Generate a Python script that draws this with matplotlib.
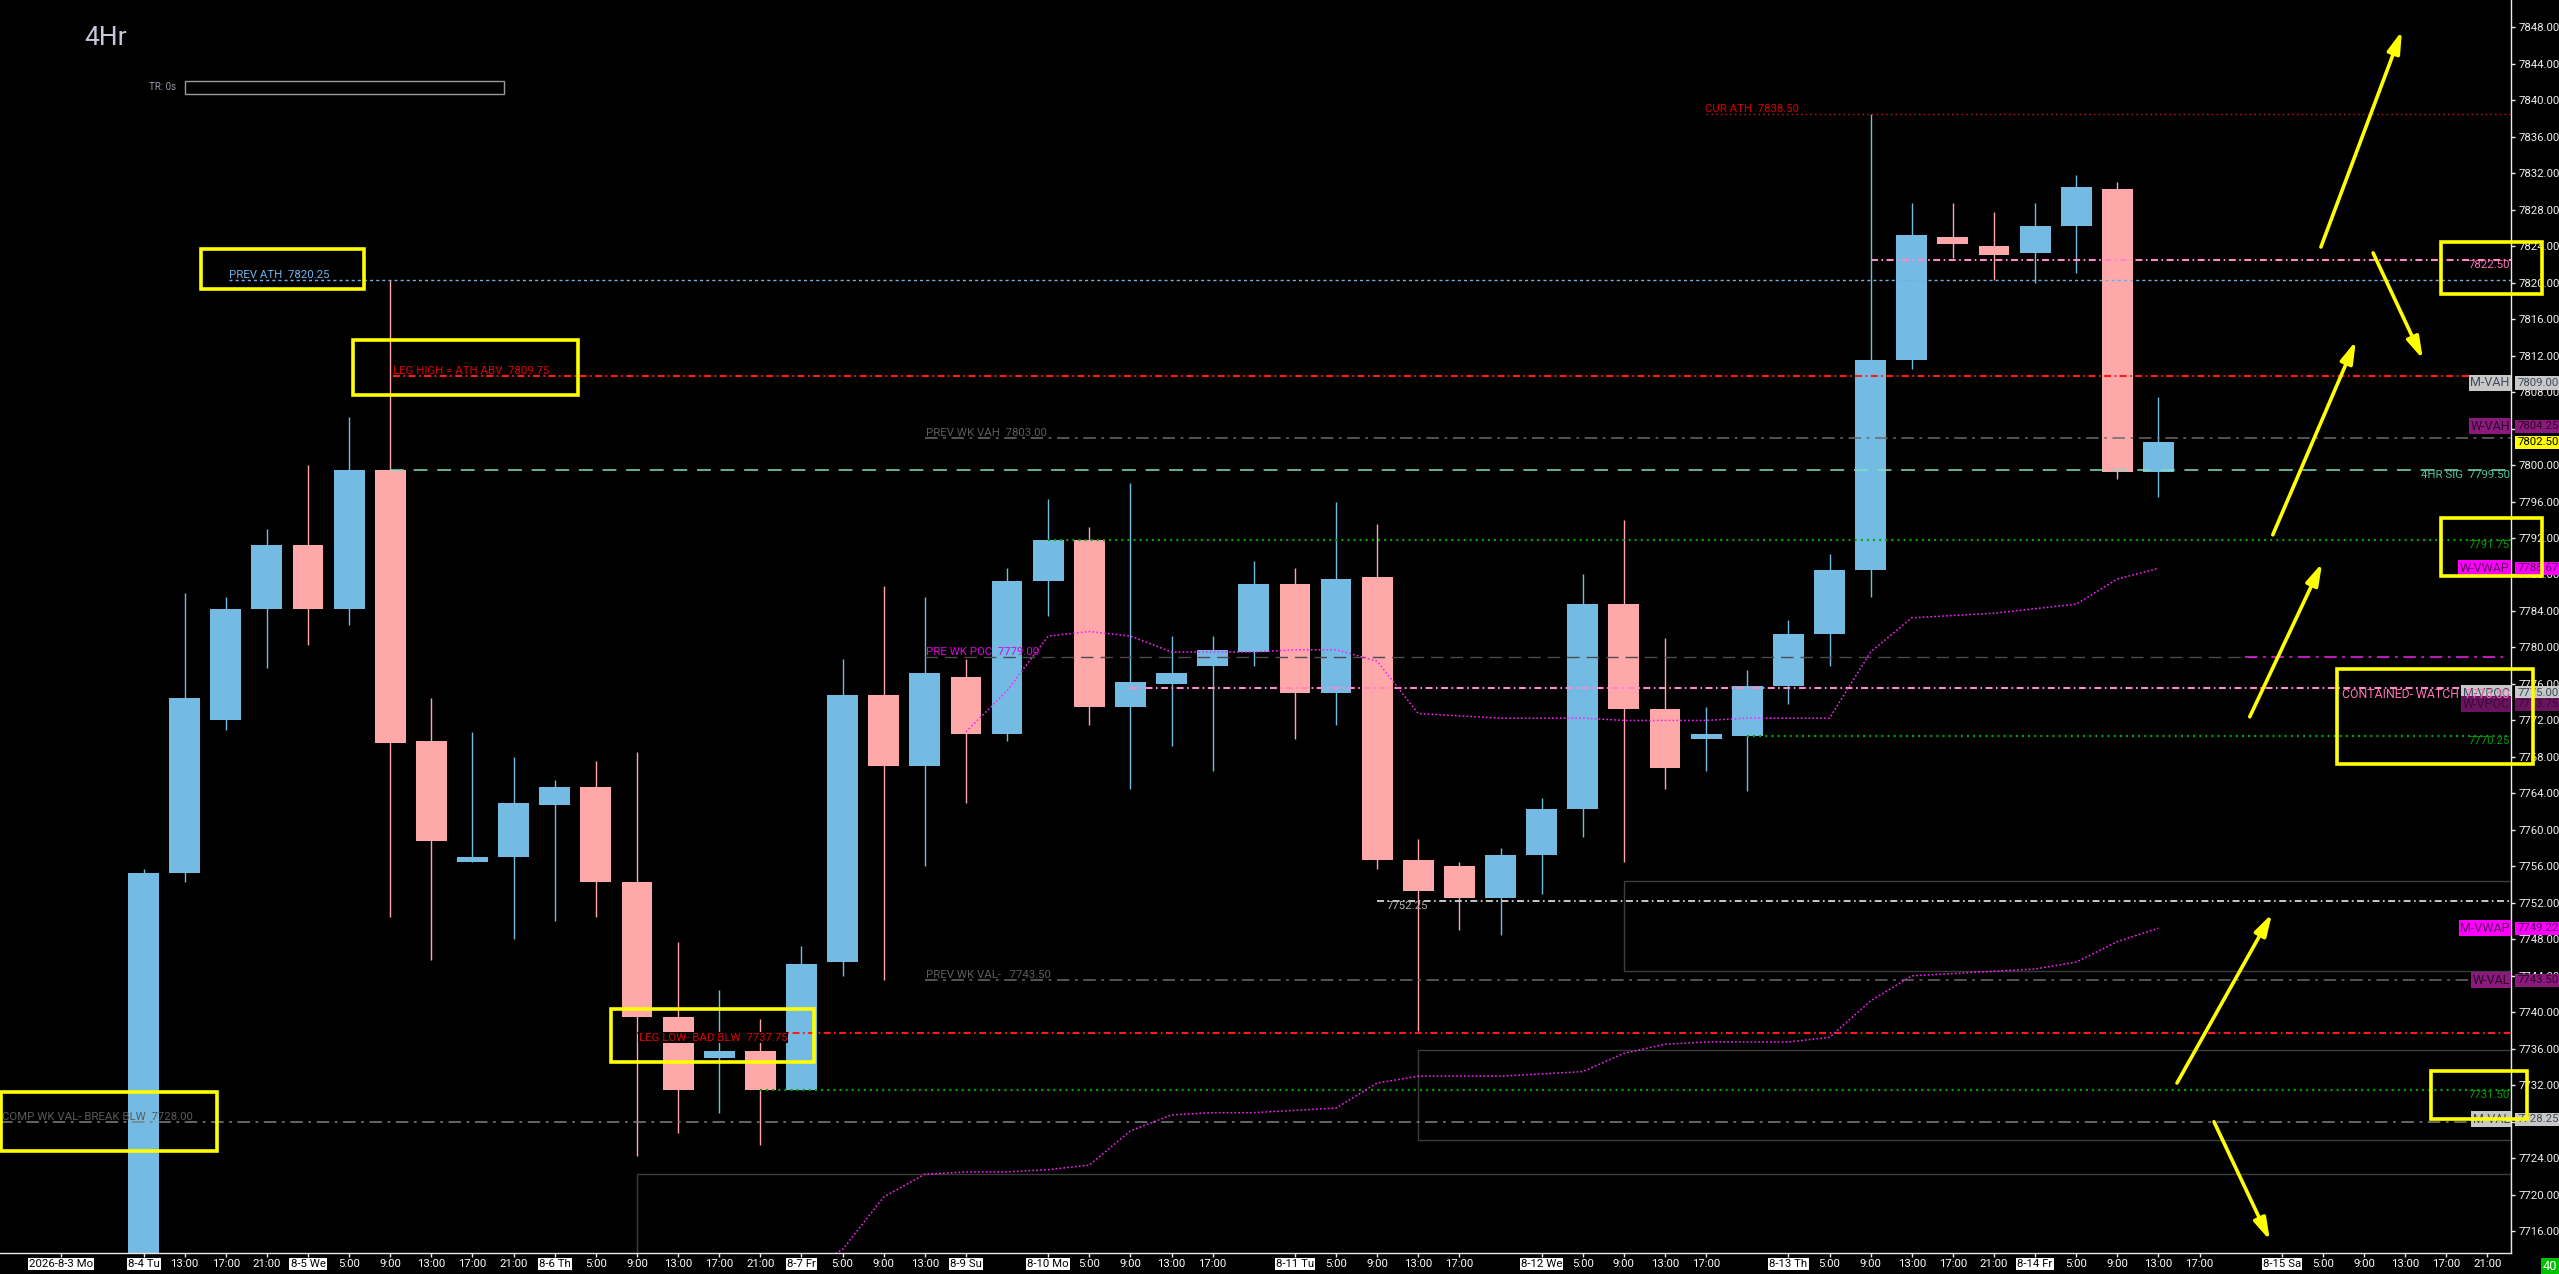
import matplotlib
matplotlib.use("Agg")
import matplotlib.pyplot as plt
from matplotlib.patches import Rectangle
from matplotlib.transforms import blended_transform_factory

FONT, FS = "Roboto", 8.2
plt.rcParams["font.family"] = [FONT, "DejaVu Sans"]
plt.rcParams["lines.scale_dashes"] = False

# 4 hour bars, index 0 = 8-4 Tu
opens = [7700.0, 7755.25, 7772.0, 7784.25, 7791.25, 7784.25, 7799.5, 7769.75, 7756.5, 7757.0,
         7762.75, 7764.75, 7754.25, 7739.5, 7735.0, 7735.75, 7731.5, 7745.5, 7774.75, 7767.0,
         7776.75, 7770.5, 7787.25, 7791.75, 7773.5, 7776.0, 7778.0, 7779.5, 7787.0, 7775.0,
         7787.75, 7756.75, 7756.0, 7752.5, 7757.25, 7762.25, 7784.75, 7773.25, 7770.0, 7770.25,
         7775.75, 7781.5, 7788.5, 7811.5, 7825.0, 7824.0, 7823.25, 7826.25, 7830.25, 7799.25]
highs = [7755.75, 7786.0, 7785.5, 7793.0, 7800.0, 7805.25, 7820.25, 7774.5, 7770.75, 7768.0,
         7765.5, 7767.5, 7768.5, 7747.75, 7742.5, 7739.25, 7747.25, 7778.75, 7786.75, 7785.5,
         7778.75, 7788.75, 7796.25, 7793.25, 7798.0, 7781.25, 7781.25, 7789.5, 7788.75, 7796.0,
         7793.5, 7759.0, 7756.5, 7758.0, 7763.5, 7788.0, 7794.0, 7781.0, 7773.5, 7777.5,
         7783.0, 7790.25, 7838.5, 7828.75, 7828.75, 7827.75, 7828.75, 7831.75, 7831.0, 7807.5]
lows = [7698.0, 7754.25, 7771.0, 7777.75, 7780.25, 7782.5, 7750.5, 7745.75, 7756.5, 7748.0,
        7750.0, 7750.5, 7724.25, 7726.75, 7729.0, 7725.5, 7731.5, 7744.0, 7743.5, 7756.0,
        7763.0, 7769.75, 7783.5, 7771.5, 7764.5, 7769.25, 7766.5, 7778.0, 7770.0, 7771.5,
        7755.75, 7738.0, 7749.0, 7748.5, 7753.0, 7759.25, 7756.5, 7764.5, 7766.5, 7764.25,
        7773.75, 7778.0, 7785.5, 7810.5, 7822.75, 7820.25, 7820.0, 7821.0, 7798.5, 7796.5]
closes = [7755.25, 7774.5, 7784.25, 7791.25, 7784.25, 7799.5, 7769.5, 7758.75, 7757.0, 7763.0,
          7764.75, 7754.25, 7739.5, 7731.5, 7735.75, 7731.5, 7745.25, 7774.75, 7767.0, 7777.25,
          7770.5, 7787.25, 7791.75, 7773.5, 7776.25, 7777.25, 7779.75, 7787.0, 7775.0, 7787.5,
          7756.75, 7753.25, 7752.5, 7757.25, 7762.25, 7784.75, 7773.25, 7766.75, 7770.5, 7775.75,
          7781.5, 7788.5, 7811.5, 7825.25, 7824.25, 7823.0, 7826.25, 7830.5, 7799.25, 7802.5]

# weekly / monthly vwap per bar
wvwap_start = 20
wvwap = [7770.75, 7775.25, 7781.25, 7781.75, 7781.25, 7779.5, 7779.5, 7779.5, 7779.75, 7779.75,
         7778.5, 7772.75, 7772.5, 7772.25, 7772.25, 7772.25, 7772.0, 7772.0, 7772.0, 7772.25,
         7772.25, 7772.25, 7779.5, 7783.25, 7783.5, 7783.75, 7784.25, 7784.75, 7787.5, 7788.67]
mvwap_start = 16
mvwap = [7711.5, 7714.0, 7719.75, 7722.25, 7722.5, 7722.5, 7722.75, 7723.25, 7727.0, 7728.75,
         7729.0, 7729.0, 7729.25, 7729.5, 7732.25, 7733.0, 7733.0, 7733.0, 7733.25, 7733.5,
         7735.5, 7736.5, 7736.75, 7736.75, 7736.75, 7737.25, 7741.25, 7744.0, 7744.25, 7744.5,
         7744.75, 7745.5, 7747.75, 7749.22]

# time axis labels
tick_pos = [-2, 0, 1, 2, 3, 4, 5, 6, 7, 8, 9, 10, 11, 12, 13, 14, 15, 16, 17, 18, 19, 20,
            22, 23, 24, 25, 26, 28, 29, 30, 31, 32, 34, 35, 36, 37, 38, 40, 41, 42, 43, 44, 45,
            46, 47, 48, 49, 50, 52, 53, 54, 55, 56, 57]
tick_lbl = ["2026-8-3 Mo", "8-4 Tu", "13:00", "17:00", "21:00", "8-5 We", "5:00", "9:00", "13:00",
            "17:00", "21:00", "8-6 Th", "5:00", "9:00", "13:00", "17:00", "21:00", "8-7 Fr", "5:00",
            "9:00", "13:00", "8-9 Su", "8-10 Mo", "5:00", "9:00", "13:00", "17:00", "8-11 Tu",
            "5:00", "9:00", "13:00", "17:00", "8-12 We", "5:00", "9:00", "13:00", "17:00",
            "8-13 Th", "5:00", "9:00", "13:00", "17:00", "21:00", "8-14 Fr", "5:00", "9:00",
            "13:00", "17:00", "8-15 Sa", "5:00", "9:00", "13:00", "17:00", "21:00"]

# key levels
PREV_ATH = 7820.25
CUR_ATH = 7838.50
LEG_HIGH = 7809.75
PREV_WK_VAH = 7803.00
SIG_4HR = 7799.50
PREV_WK_POC = 7779.00
CONTAINED = 7775.50
LEG_LOW = 7737.75
PREV_WK_VAL = 7743.50
COMP_WK_VAL = 7728.00
LOW_7752 = 7752.25
HI_7822 = 7822.50
green_levels = [7791.75, 7770.25, 7731.50]
green_start = [22, 39, 15]

# right side study labels
side_names = ["M-VAH", "W-VAH", "W-VWAP", "M-VPOC", "W-VPOC", "M-VWAP", "W-VAL", "M-VAL"]
side_prices = [7809.00, 7804.25, 7788.67, 7775.00, 7773.75, 7749.22, 7743.50, 7728.25]
last_price = 7802.50

BG = "black"
UP = "#74bbe4"
DN = "#ffa8aa"

fig = plt.figure(figsize=(25.59, 12.74), dpi=100, facecolor=BG)
ax = fig.add_axes([0.0, 0.0161, 0.9812, 0.9839], facecolor=BG)
XMIN, XMAX = -3.49, 57.57
ax.set_xlim(XMIN, XMAX)
ax.set_ylim(7713.56, 7850.98)

# volume profile boxes
box_style = dict(fill=False, ec="#3c3c3c", lw=1.0, zorder=1)
ax.add_patch(Rectangle((36, 7744.5), XMAX - 36, 7754.4 - 7744.5, **box_style))
ax.add_patch(Rectangle((31, 7725.95), XMAX - 31, 7735.9 - 7725.95, **box_style))
ax.add_patch(Rectangle((12, 7700), XMAX - 12, 7722.3 - 7700, **box_style))

# candles
for i in range(len(opens)):
    col = UP if closes[i] >= opens[i] else DN
    ax.vlines(i, lows[i], highs[i], color=col, lw=1.0, zorder=2)
    lo, hi = min(opens[i], closes[i]), max(opens[i], closes[i])
    ax.bar(i, max(hi - lo, 0.45), bottom=lo, width=0.75, color=col, lw=0, zorder=2.1)

# levels
dashdot = (0, (5, 2.5, 1.2, 2.5))
ax.hlines(CUR_ATH, 38, XMAX, color="#c01010", lw=1.0, linestyles=(0, (1.2, 2.2)), zorder=3)
ax.hlines(HI_7822, 42, XMAX, color="#ff88c8", lw=1.5, linestyles=dashdot, zorder=3)
ax.hlines(PREV_ATH, 2.08, XMAX, color="#6cb0e4", lw=1.0, linestyles=(0, (2.2, 2.2)), zorder=3)
ax.hlines(LEG_HIGH, 6.07, XMAX, color="#ff1a1a", lw=1.5, linestyles=dashdot, zorder=3)
ax.hlines(PREV_WK_VAH, 19, XMAX, color="#6a6a6a", lw=1.1, linestyles=(0, (9, 4, 2, 4)), zorder=3)
ax.hlines(SIG_4HR, 6, XMAX, color="#7fe0c0", lw=1.1, linestyles=(0, (10, 7)), zorder=3)
ax.hlines(PREV_WK_POC, 19, 51.35, color="#4c4c4c", lw=1.0, linestyles=(0, (9, 5)), zorder=3)
ax.hlines(PREV_WK_POC, 51.1, XMAX - 0.15, color="#e020e0", lw=1.2,
          linestyles=(0, (9, 4, 2, 4)), zorder=3)
ax.hlines(CONTAINED, 24, XMAX, color="#ff88c8", lw=1.5, linestyles=dashdot, zorder=3)
ax.hlines(LOW_7752, 30, XMAX, color="#c8c8c8", lw=1.4, linestyles=dashdot, zorder=3)
ax.hlines(PREV_WK_VAL, 19, XMAX - 0.15, color="#6a6a6a", lw=1.1,
          linestyles=(0, (9, 4, 2, 4)), zorder=3)
ax.hlines(LEG_LOW, 12, XMAX, color="#ff1a1a", lw=1.5, linestyles=dashdot, zorder=3)
ax.hlines(COMP_WK_VAL, XMIN, XMAX, color="#808080", lw=1.1, linestyles=(0, (9, 4, 2, 4)), zorder=3)
for lvl, st in zip(green_levels, green_start):
    ax.hlines(lvl, st, XMAX, color="#00a800", lw=1.6, linestyles=(0, (1.4, 3)), zorder=3)

# vwaps
ax.plot(range(wvwap_start, wvwap_start + len(wvwap)), wvwap, color="#ff20ff", lw=1.1,
        ls=(0, (1.2, 1.6)), zorder=3.5)
ax.plot(range(mvwap_start, mvwap_start + len(mvwap)), mvwap, color="#ff20ff", lw=1.1,
        ls=(0, (1.2, 1.6)), zorder=3.5)

# level labels on chart
def lab(x, y, s, c, va="bottom", **kw):
    ax.text(x, y, s, color=c, fontsize=FS, va=va, ha="left", zorder=4, **kw)

lab(2.08, PREV_ATH, "PREV ATH  7820.25", "#6cb4f0")
lab(6.07, LEG_HIGH, "LEG HIGH = ATH ABV  7809.75", "#e00000")
lab(19.03, PREV_WK_VAH, "PREV WK VAH  7803.00", "#5c5c5c")
lab(19.03, PREV_WK_POC, "PRE WK POC  7779.00", "#e000e0")
lab(37.97, CUR_ATH, "CUR ATH  7838.50", "#d00000")
lab(19.03, PREV_WK_VAL, "PREV WK VAL-   7743.50", "#5c5c5c")
lab(-3.44, COMP_WK_VAL, "COMP WK VAL- BREAK BLW  7728.00", "#5a5a5a")
lab(30.24, LOW_7752, "7752.25", "#b0b0b0", va="top")
lab(12.05, LEG_LOW, "LEG LOW- BAD BLW  7737.75", "#e00000", va="top",
    bbox=dict(boxstyle="square,pad=0.05", fc="black", ec="none"))

# right aligned labels just left of the price axis
tr = blended_transform_factory(ax.transAxes, ax.transData)
def rlab(y, s, c, va="top", z=4):
    ax.text(0.9995, y, s, color=c, fontsize=FS, va=va, ha="right", transform=tr, zorder=z)

rlab(HI_7822, "7822.50", "#ff70b8")
rlab(SIG_4HR, "4HR SIG  7799.50", "#50c8a4")
rlab(green_levels[0], "7791.75", "#00a000")
rlab(green_levels[1], "7770.25", "#00a000")
rlab(green_levels[2], "7731.50", "#00a000")

# study name boxes and price boxes
for nm, pr in zip(side_names, side_prices):
    if nm.endswith("VWAP"):
        bg, fg = "#ff00ff", "#5a005a"
    elif nm == "W-VPOC":
        bg, fg = "#6a1460", "#3a0a34"
    elif nm.startswith("W"):
        bg, fg = "#8c1a7c", "#2a0626"
    else:
        bg, fg = "#c8c8c8", "#3c4a5a"
    ax.text(0.9995, pr, nm, color=fg, fontsize=FS + 0.8, va="center", ha="right", transform=tr,
            zorder=4.5, clip_on=False,
            bbox=dict(boxstyle="square,pad=0.12", fc=bg, ec="none"))
    ax.text(1.0025, pr, f"{pr:.2f}", color=fg, fontsize=FS, va="center", ha="left",
            transform=tr, zorder=4.5, clip_on=False,
            bbox=dict(boxstyle="square,pad=0.15", fc=bg, ec="none"))
ax.text(1.0025, last_price, f"{last_price:.2f}", color="black", fontsize=FS, va="center",
        ha="left", transform=tr, zorder=4.7, clip_on=False,
        bbox=dict(boxstyle="square,pad=0.15", fc="#ffff00", ec="none"))
ax.text(0.9995, CONTAINED, "CONTAINED- WATCH  7775.50", color="#ff70b8", fontsize=FS + 0.6,
        va="top", ha="right", transform=tr, zorder=4.8)

# yellow highlight boxes
yboxes = [(1.39, 7819.3, 5.36, 7823.7), (5.10, 7807.7, 10.57, 7813.75),
          (11.38, 7734.5, 16.31, 7740.4), (-3.46, 7724.8, 1.79, 7731.3),
          (55.87, 7818.75, 58.33, 7824.4), (55.87, 7787.85, 58.33, 7794.15),
          (53.34, 7767.2, 58.11, 7777.6), (55.63, 7728.3, 57.96, 7733.6)]
for x0, y0, x1, y1 in yboxes:
    ax.add_patch(Rectangle((x0, y0), x1 - x0, y1 - y0, fill=False, ec="#ffff00", lw=2.6,
                           zorder=6, clip_on=False))

# scenario arrows (tail -> head)
arrows = [((52.95, 7823.9), (54.92, 7847.6)), ((54.22, 7823.25), (55.43, 7811.6)),
          ((51.78, 7792.35), (53.80, 7813.6)), ((51.22, 7772.4), (52.98, 7789.25)),
          ((49.45, 7732.25), (51.76, 7750.8)), ((50.35, 7728.0), (51.71, 7715.0))]
for tail, head in arrows:
    ax.annotate("", xy=head, xytext=tail, zorder=6, annotation_clip=False,
                arrowprops=dict(arrowstyle="-|>,head_length=1.3,head_width=0.38",
                                color="#ffff00", lw=2.6, shrinkA=0, shrinkB=0))

# header texts
ax.text(0.0335, 0.9697, "4Hr", color="#c8c8dc", fontsize=19, va="center", ha="left",
        transform=ax.transAxes)
ax.text(0.0593, 0.9306, "TR: 0s", color="#9a9aaa", fontsize=FS - 1.2, va="center", ha="left",
        transform=ax.transAxes)
ax.add_patch(Rectangle((0.0737, 0.925), 0.127, 0.0104, fill=False, ec="#9a9a9a", lw=1.0,
                       transform=ax.transAxes))

# axes
for s in ["top", "left"]:
    ax.spines[s].set_visible(False)
for s in ["right", "bottom"]:
    ax.spines[s].set_color("#e8e8e8")
    ax.spines[s].set_linewidth(1.0)

ax.yaxis.tick_right()
yt = list(range(7716, 7849, 4))
ax.set_yticks(yt)
ax.set_yticklabels([f"{v:.2f}" for v in yt])
ax.tick_params(axis="y", colors="#e8e8e8", labelcolor="#f0f0f0", labelsize=FS,
               length=3, width=1, pad=2.5)

ax.set_xticks(tick_pos)
ax.set_xticklabels(tick_lbl)
ax.tick_params(axis="x", colors="#e8e8e8", labelcolor="white", labelsize=FS, length=3,
               width=1, pad=1.2)
for t in ax.get_xticklabels():
    if "-" in t.get_text():
        t.set_color("black")
        t.set_bbox(dict(boxstyle="square,pad=0.1", fc="white", ec="none"))

fig.text(0.9965, 0.0062, "40", color="white", fontsize=FS + 1, ha="center", va="center",
         bbox=dict(boxstyle="square,pad=0.15", fc="#00c000", ec="none"))

fig.savefig("out.png", dpi=100, facecolor=BG)
